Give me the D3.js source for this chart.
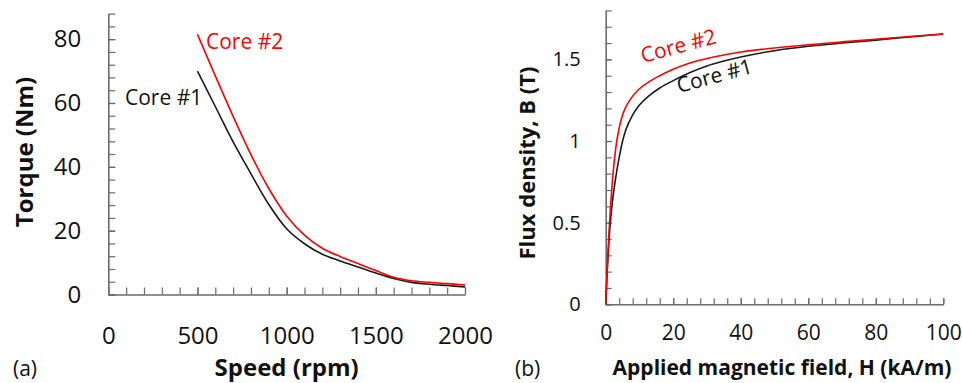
<!DOCTYPE html>
<html><head><meta charset="utf-8">
<script src="https://cdn.jsdelivr.net/npm/d3@7"></script>
<style>
body{margin:0;background:#fff;}
svg{display:block;}
text{font-family:"Open Sans",sans-serif;}
</style></head>
<body><svg id="c" width="962" height="383"></svg>
<script>
// Panel (a): torque vs speed
const speedRpm = [500,600,700,800,900,1000,1100,1200,1300,1400,1500,1600,1700,1800,1900,2000];
const torqueCore1 = [70,58.9,47.8,37.8,28.2,20.6,15.9,12.6,10.5,8.6,6.7,5.0,3.8,3.2,2.8,2.4];
const torqueCore2 = [81.5,68.5,55.8,43.8,33.2,24.6,18.6,14.5,11.9,9.7,7.5,5.4,4.3,3.8,3.4,3.0];
const speedTicks = [0,500,1000,1500,2000];
const torqueTicks = [0,20,40,60,80];

// Panel (b): B-H curves
const fieldH = [0,0.5,1,1.5,2,3,4,5,6,8,10,13,16,20,25,30,35,40,50,60,70,80,90,100];
const fluxCore1 = [0,0.22,0.4,0.53,0.63,0.78,0.9,1.0,1.07,1.16,1.22,1.28,1.325,1.37,1.42,1.46,1.49,1.515,1.553,1.58,1.6,1.618,1.637,1.655];
const fluxCore2 = [0,0.25,0.45,0.62,0.76,0.96,1.08,1.16,1.21,1.275,1.32,1.365,1.40,1.44,1.478,1.505,1.527,1.545,1.57,1.59,1.607,1.623,1.64,1.655];
const fieldTicks = [0,20,40,60,80,100];
const fluxTicks = [0,0.5,1,1.5];
const fluxTickLabels = ["0","0.5","1","1.5"];

const svg = d3.select("#c");
const AX = "#6b6b6b";

function styleAxis(g){
  g.select(".domain").attr("stroke", AX).attr("stroke-width", 1.6);
  g.selectAll(".tick line").attr("stroke", AX).attr("stroke-width", 1.2);
}

// ---------- Panel (a) ----------
const xA = d3.scaleLinear().domain([0,2000]).range([108.3,465]);
const yA = d3.scaleLinear().domain([0,88]).range([294.5,13.6]);

const gA = svg.append("g");
gA.append("g").attr("transform",`translate(${xA(0)},0)`)
  .call(d3.axisLeft(yA).tickValues(d3.range(0,89,4)).tickSizeInner(-7).tickSizeOuter(0).tickFormat(""))
  .call(styleAxis);
gA.append("g").attr("transform",`translate(0,${yA(0)})`)
  .call(d3.axisBottom(xA).tickValues(d3.range(0,2001,100)).tickSizeInner(-7).tickSizeOuter(0).tickFormat(""))
  .call(styleAxis);
const yAx = gA.append("g").attr("transform",`translate(${xA(0)},0)`)
  .call(d3.axisLeft(yA).tickValues(torqueTicks).tickSizeInner(-7).tickSizeOuter(0).tickPadding(27).tickFormat(d3.format("d")));
yAx.select(".domain").remove();
yAx.selectAll(".tick line").attr("stroke",AX).attr("stroke-width",1.2);
yAx.selectAll("text").attr("font-size",24).attr("fill","#111").attr("font-family","Open Sans");
const xAx = gA.append("g").attr("transform",`translate(0,${yA(0)})`)
  .call(d3.axisBottom(xA).tickValues(speedTicks).tickSizeInner(-7).tickSizeOuter(0).tickFormat(d3.format("d")));
xAx.select(".domain").remove();
xAx.selectAll(".tick line").attr("stroke",AX).attr("stroke-width",1.2);
xAx.selectAll("text").attr("font-size",24).attr("fill","#111").attr("font-family","Open Sans")
  .attr("y",49).attr("dy",0);

const lineA = d3.line().x((d,i)=>xA(speedRpm[i])).y(d=>yA(d)).curve(d3.curveCatmullRom.alpha(0.5));
gA.append("path").datum(torqueCore1).attr("d",lineA).attr("fill","none").attr("stroke","#1a1a1a").attr("stroke-width",1.6);
gA.append("path").datum(torqueCore2).attr("d",lineA).attr("fill","none").attr("stroke","#ff0000").attr("stroke-width",1.6);

gA.append("text").attr("x",206).attr("y",49).attr("font-size",21).attr("fill","#ff0000").text("Core #2");
gA.append("text").attr("x",125).attr("y",105).attr("font-size",21).attr("fill","#111").text("Core #1");

gA.append("text").attr("x",xA(1000)).attr("y",376).attr("text-anchor","middle")
  .attr("font-size",24).attr("font-weight","bold").attr("fill","#111").text("Speed (rpm)");
gA.append("text").attr("transform","translate(33,152) rotate(-90)").attr("text-anchor","middle")
  .attr("font-size",24).attr("font-weight","bold").attr("fill","#111").text("Torque (Nm)");
gA.append("text").attr("x",13).attr("y",376).attr("font-size",21).attr("fill","#111").text("(a)");

// ---------- Panel (b) ----------
const xB = d3.scaleLinear().domain([0,100]).range([605.7,943.3]);
const yB = d3.scaleLinear().domain([0,1.8]).range([304.3,10.4]);

const gB = svg.append("g");
gB.append("g").attr("transform",`translate(${xB(0)},0)`)
  .call(d3.axisLeft(yB).tickValues(d3.range(0,19).map(i=>i/10)).tickSizeInner(-6).tickSizeOuter(0).tickFormat(""))
  .call(styleAxis);
gB.append("g").attr("transform",`translate(0,${yB(0)})`)
  .call(d3.axisBottom(xB).tickValues(d3.range(0,101,4)).tickSizeInner(-6).tickSizeOuter(0).tickFormat(""))
  .call(styleAxis);
const yBx = gB.append("g").attr("transform",`translate(${xB(0)},0)`)
  .call(d3.axisLeft(yB).tickValues(fluxTicks).tickSizeInner(-6).tickSizeOuter(0).tickPadding(25)
    .tickFormat((d,i)=>fluxTickLabels[i]));
yBx.select(".domain").remove();
yBx.selectAll(".tick line").attr("stroke",AX).attr("stroke-width",1.2);
yBx.selectAll("text").attr("font-size",20).attr("fill","#111").attr("font-family","Open Sans");
const xBx = gB.append("g").attr("transform",`translate(0,${yB(0)})`)
  .call(d3.axisBottom(xB).tickValues(fieldTicks).tickSizeInner(-6).tickSizeOuter(0).tickFormat(d3.format("d")));
xBx.select(".domain").remove();
xBx.selectAll(".tick line").attr("stroke",AX).attr("stroke-width",1.2);
xBx.selectAll("text").attr("font-size",21).attr("fill","#111").attr("font-family","Open Sans")
  .attr("y",36).attr("dy",0);

const lineB = d3.line().x((d,i)=>xB(fieldH[i])).y(d=>yB(d)).curve(d3.curveMonotoneX);
gB.append("path").datum(fluxCore1).attr("d",lineB).attr("fill","none").attr("stroke","#1a1a1a").attr("stroke-width",1.6);
gB.append("path").datum(fluxCore2).attr("d",lineB).attr("fill","none").attr("stroke","#ff0000").attr("stroke-width",1.6);

gB.append("text").attr("transform","translate(643,63) rotate(-15)").attr("font-size",21).attr("fill","#ff0000").text("Core #2");
gB.append("text").attr("transform","translate(679,93) rotate(-15)").attr("font-size",21).attr("fill","#111").text("Core #1");

gB.append("text").attr("x",782).attr("y",375).attr("text-anchor","middle")
  .attr("font-size",21).attr("font-weight","bold").attr("fill","#111").text("Applied magnetic field, H (kA/m)");
gB.append("text").attr("transform","translate(535,163) rotate(-90)").attr("text-anchor","middle")
  .attr("font-size",22).attr("font-weight","bold").attr("fill","#111").text("Flux density, B (T)");
gB.append("text").attr("x",515).attr("y",376).attr("font-size",21).attr("fill","#111").text("(b)");
</script></body></html>
